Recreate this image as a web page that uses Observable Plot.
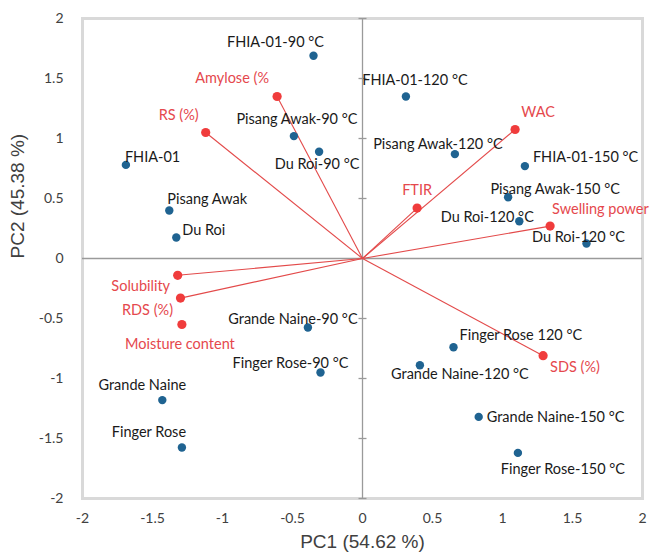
<!DOCTYPE html>
<html>
<head>
<meta charset="utf-8">
<script src="https://cdn.jsdelivr.net/npm/d3@7"></script>
<script src="https://cdn.jsdelivr.net/npm/@observablehq/plot@0.6"></script>
<style>
  html, body { margin: 0; padding: 0; background: #fff; }
</style>
</head>
<body>
<div id="chart"></div>
<script>
// ---- Data: PCA scores (samples) ----
const scoreNames = [
  "FHIA-01-90 °C", "FHIA-01-120 °C", "Pisang Awak-90 °C", "Du Roi-90 °C",
  "FHIA-01", "Pisang Awak", "Du Roi", "Pisang Awak-120 °C",
  "FHIA-01-150 °C", "Pisang Awak-150 °C", "Du Roi-120 °C", "Du Roi-120 °C",
  "Grande Naine-90 °C", "Finger Rose-90 °C", "Grande Naine", "Finger Rose",
  "Finger Rose 120 °C", "Grande Naine-120 °C", "Grande Naine-150 °C", "Finger Rose-150 °C"
];
const scorePC1 = [-0.35, 0.31, -0.49, -0.31, -1.69, -1.38, -1.33, 0.66, 1.16, 1.04, 1.12, 1.60, -0.39, -0.30, -1.43, -1.29, 0.65, 0.41, 0.83, 1.11];
const scorePC2 = [1.69, 1.35, 1.02, 0.89, 0.78, 0.40, 0.175, 0.87, 0.77, 0.51, 0.31, 0.125, -0.575, -0.95, -1.18, -1.575, -0.74, -0.89, -1.32, -1.62];

// ---- Data: PCA loadings (variables) ----
const loadNames = ["Amylose (%", "RS (%)", "WAC", "FTIR", "Swelling power", "Solubility", "RDS (%)", "Moisture content", "SDS (%)"];
const loadPC1 = [-0.61, -1.12, 1.09, 0.39, 1.34, -1.32, -1.30, -1.29, 1.29];
const loadPC2 = [1.35, 1.05, 1.075, 0.42, 0.27, -0.14, -0.33, -0.55, -0.81];
const loadHasVector = [true, true, true, true, true, true, true, false, true];

// ---- Axis ticks ----
const xTicks = [-2, -1.5, -1, -0.5, 0, 0.5, 1, 1.5, 2];
const yTicks = [-2, -1.5, -1, -0.5, 0, 0.5, 1, 1.5, 2];
const xTitle = "PC1 (54.62 %)";
const yTitle = "PC2 (45.38 %)";

// ---- Label placement (pixels offsets / anchors) ----
const scoreLabelPos = [
  [-38, -13, "middle"], [9, -16, "middle"], [3, -17, "middle"], [-2, 13, "middle"],
  [-1, -8, "start"], [-2, -11, "start"], [6, -7, "start"], [-17, -10, "middle"],
  [8, -9, "start"], [47, -8, "middle"], [-32, -4, "middle"], [-8, -6, "middle"],
  [-15, -8, "middle"], [-30, -9, "middle"], [-20, -15, "middle"], [-33, -15, "middle"],
  [6, -12, "start"], [40, 9, "middle"], [8, 0, "start"], [45, 16, "middle"]
];
const loadLabelPos = [
  [-45, -18, "middle"], [-27, -17, "middle"], [23, -17, "middle"], [0, -18, "middle"],
  [2, -17, "start"], [-37, 11, "middle"], [-33, 12, "middle"], [-2, 20, "middle"], [7, 12, "start"]
];

const scores = scoreNames.map((name, i) => ({name, x: scorePC1[i], y: scorePC2[i]}));
const loadings = loadNames.map((name, i) => ({name, x: loadPC1[i], y: loadPC2[i], vec: loadHasVector[i]}));

const FONT = "Lato, 'Open Sans', sans-serif";
const blue = "#1f6391";
const red = "#f03c3c";
const redText = "#e5484d";
const axisGray = "#9a9a9a";

const hTick = { draw(context) { context.moveTo(-4, 0); context.lineTo(4, 0); } };
const fmt = d => String(d);

const marks = [
  Plot.frame({stroke: "#d9d9d9", strokeWidth: 3}),
  Plot.axisX({ticks: xTicks, tickSize: 0, tickPadding: 15, tickFormat: fmt, fontSize: 14, fill: "#404040", label: null}),
  Plot.axisY({ticks: yTicks, tickSize: 0, tickPadding: 19, tickFormat: fmt, fontSize: 14, fill: "#404040", label: null}),
  Plot.ruleX([0], {stroke: axisGray, strokeWidth: 1.3}),
  Plot.ruleY([0], {stroke: axisGray, strokeWidth: 1.3}),
  Plot.dot(yTicks, {x: () => 0, y: d => d, symbol: hTick, stroke: axisGray, fill: "none", strokeWidth: 1.3}),
  Plot.link(loadings.filter(d => d.vec), {x1: () => 0, y1: () => 0, x2: "x", y2: "y", stroke: "#e34a4a", strokeWidth: 1.1}),
  Plot.dot(scores, {x: "x", y: "y", r: 4.2, fill: blue}),
  Plot.dot(loadings, {x: "x", y: "y", r: 4.6, fill: red}),
  ...scores.map((d, i) => Plot.text([d], {
    x: "x", y: "y", text: "name",
    dx: scoreLabelPos[i][0], dy: scoreLabelPos[i][1], textAnchor: scoreLabelPos[i][2],
    fontSize: 14.5, fill: "#1a1a1a"
  })),
  ...loadings.map((d, i) => Plot.text([d], {
    x: "x", y: "y", text: "name",
    dx: loadLabelPos[i][0], dy: loadLabelPos[i][1], textAnchor: loadLabelPos[i][2],
    fontSize: 14.5, fill: redText
  })),
  Plot.text([xTitle], {frameAnchor: "bottom", dy: 49, fontSize: 19, fill: "#404040", fontFamily: "'Liberation Sans', Arial, sans-serif"}),
  Plot.text([yTitle], {frameAnchor: "left", dx: -65, rotate: -90, fontSize: 19, fill: "#404040", fontFamily: "'Liberation Sans', Arial, sans-serif"})
];

const chart = Plot.plot({
  width: 656,
  height: 556,
  marginLeft: 82,
  marginRight: 14,
  marginTop: 18,
  marginBottom: 58,
  x: {domain: [-2, 2]},
  y: {domain: [-2, 2]},
  style: {fontFamily: FONT, background: "#fff", overflow: "visible"},
  marks
});
document.getElementById("chart").appendChild(chart);
</script>
</body>
</html>
